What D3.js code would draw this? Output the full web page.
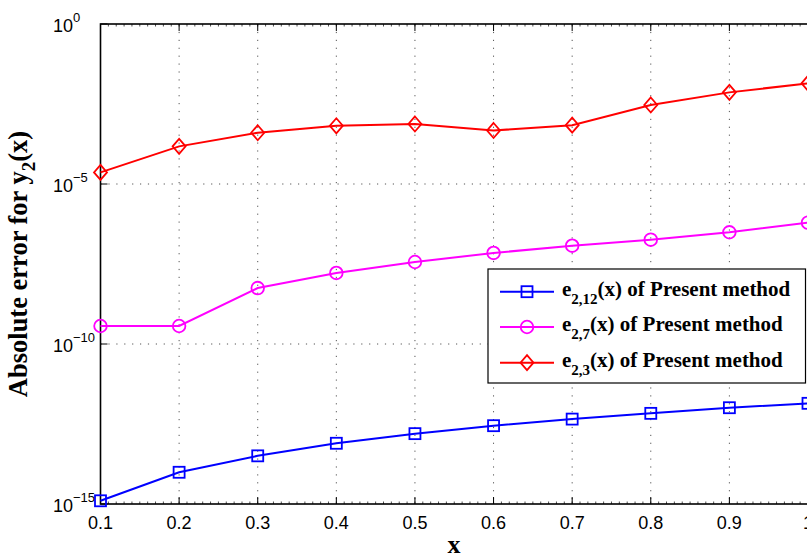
<!DOCTYPE html>
<html><head><meta charset="utf-8">
<script src="https://cdn.jsdelivr.net/npm/d3@7"></script>
<style>body{margin:0;background:#fff}svg{display:block}
.serif{font-family:"Liberation Serif","Times New Roman",serif;font-weight:bold}
.sans{font-family:"Liberation Sans",Arial,Helvetica,sans-serif}
</style>
</head><body>
<svg id="c" width="807" height="553"></svg>
<script>
const xValues = [0.1,0.2,0.3,0.4,0.5,0.6,0.7,0.8,0.9,1.0];
const e212 = [1.26e-15,9.8e-15,3.2e-14,7.9e-14,1.58e-13,2.8e-13,4.5e-13,6.8e-13,1.02e-12,1.4e-12];
const e27  = [3.65e-10,3.65e-10,5.6e-9,1.66e-8,3.65e-8,7.0e-8,1.18e-7,1.82e-7,3.1e-7,6.2e-7];
const e23  = [2.3e-5,1.5e-4,4.0e-4,6.6e-4,7.5e-4,4.7e-4,6.9e-4,2.95e-3,7.3e-3,1.4e-2];
const xTicks = [0.1,0.2,0.3,0.4,0.5,0.6,0.7,0.8,0.9,1];
const xTickLabels = ["0.1","0.2","0.3","0.4","0.5","0.6","0.7","0.8","0.9","1"];
const yTicks = [1e-15,1e-10,1e-5,1];
const yTickExps = ["\u221215","\u221210","\u22125","0"];
const seriesNames = ["2,12","2,7","2,3"];
const seriesColors = ["#0000ff","#ff00ff","#ff0000"];
const seriesMarkers = ["square","circle","diamond"];

const svg = d3.select("#c");
const L=100.5, R=808, T=24, B=504;
const x = d3.scaleLinear().domain([0.1,1]).range([L,R]);
const y = d3.scaleLog().domain([1e-15,1]).range([B,T]);

// grid
const g = svg.append("g");
g.selectAll(".vg").data(xTicks.slice(1,-1)).join("line")
  .attr("x1",d=>x(d)).attr("x2",d=>x(d)).attr("y1",T).attr("y2",B)
  .attr("stroke","#555").attr("stroke-width",1).attr("stroke-dasharray","1.2,6.7");
g.selectAll(".hg").data(yTicks.slice(1,-1)).join("line")
  .attr("x1",L).attr("x2",R).attr("y1",d=>y(d)).attr("y2",d=>y(d))
  .attr("stroke","#555").attr("stroke-width",1).attr("stroke-dasharray","1.2,6.7");

// minor x ticks
const minor = d3.range(0.1,1.0001,0.01);
g.selectAll(".mt").data(minor).join("line")
  .attr("x1",d=>x(d)).attr("x2",d=>x(d)).attr("y1",B).attr("y2",B-2.5)
  .attr("stroke","#000").attr("stroke-width",0.7);
g.selectAll(".mtt").data(minor).join("line")
  .attr("x1",d=>x(d)).attr("x2",d=>x(d)).attr("y1",T).attr("y2",T+2.5)
  .attr("stroke","#000").attr("stroke-width",0.7);

// major ticks
g.selectAll(".xt").data(xTicks).join("line")
  .attr("x1",d=>x(d)).attr("x2",d=>x(d)).attr("y1",B).attr("y2",B-7)
  .attr("stroke","#000").attr("stroke-width",1);
g.selectAll(".xtt").data(xTicks).join("line")
  .attr("x1",d=>x(d)).attr("x2",d=>x(d)).attr("y1",T).attr("y2",T+7)
  .attr("stroke","#000").attr("stroke-width",1);
g.selectAll(".yt").data(yTicks).join("line")
  .attr("x1",L).attr("x2",L+7).attr("y1",d=>y(d)).attr("y2",d=>y(d))
  .attr("stroke","#000").attr("stroke-width",1);

// axes box
svg.append("rect").attr("x",L).attr("y",T).attr("width",R-L).attr("height",B-T)
  .attr("fill","none").attr("stroke","#000").attr("stroke-width",1.6);

// tick labels
svg.selectAll(".xl").data(xTicks).join("text").attr("class","sans")
  .attr("x",d=>x(d)).attr("y",529).attr("text-anchor","middle")
  .style("font-size","18px")
  .text((d,i)=>xTickLabels[i]);
const yl = svg.selectAll(".yl").data(yTicks).join("text").attr("class","sans")
  .attr("x",53).attr("y",d=>y(d)+8)
  .style("font-size","18px");
yl.append("tspan").text("10");
yl.append("tspan").attr("dy",-10).style("font-size","13px").text((d,i)=>yTickExps[i]);

// series
const data = [e212,e27,e23];
data.forEach((vals,si)=>{
  const pts = xValues.map((xv,i)=>[xv,vals[i]]);
  const col = seriesColors[si];
  svg.append("path").datum(pts)
    .attr("d", d3.line().x(d=>x(d[0])).y(d=>y(d[1])))
    .attr("fill","none").attr("stroke",col).attr("stroke-width",2);
  pts.forEach(p=>drawMarker(svg, seriesMarkers[si], x(p[0]), y(p[1]), col));
});

function drawMarker(sel, type, cx, cy, col){
  if(type==="square"){
    sel.append("rect").attr("x",cx-5.5).attr("y",cy-5.5).attr("width",11).attr("height",11)
      .attr("fill","none").attr("stroke",col).attr("stroke-width",1.8);
  } else if(type==="circle"){
    sel.append("circle").attr("cx",cx).attr("cy",cy).attr("r",6.3)
      .attr("fill","none").attr("stroke",col).attr("stroke-width",1.8);
  } else {
    sel.append("path").attr("d",`M${cx},${cy-7.5}L${cx+6.5},${cy}L${cx},${cy+7.5}L${cx-6.5},${cy}Z`)
      .attr("fill","none").attr("stroke",col).attr("stroke-width",1.8);
  }
}

// legend
const lg = svg.append("g");
lg.append("rect").attr("x",488).attr("y",269).attr("width",317.5).attr("height",114)
  .attr("fill","#fff").attr("stroke","#000").attr("stroke-width",1.2);
const rowY = [291.7,327,362.7];
seriesNames.forEach((nm,i)=>{
  const col = seriesColors[i];
  lg.append("line").attr("x1",500).attr("x2",554).attr("y1",rowY[i]).attr("y2",rowY[i])
    .attr("stroke",col).attr("stroke-width",2);
  drawMarker(lg, seriesMarkers[i], 527, rowY[i], col);
  const t = lg.append("text").attr("class","serif").attr("x",562).attr("y",rowY[i]+4)
    .style("font-size","21px");
  t.append("tspan").text("e");
  t.append("tspan").attr("dy",8).style("font-size","15px").text(nm);
  t.append("tspan").attr("dy",-8).text("(x) of Present method");
});

// axis labels
const ylab = svg.append("text").attr("class","serif").attr("transform","translate(27,264) rotate(-90)")
  .attr("text-anchor","middle").style("font-size","26.5px");
ylab.append("tspan").text("Absolute error for y");
ylab.append("tspan").attr("dy",8).style("font-size","19px").text("2");
ylab.append("tspan").attr("dy",-8).text("(x)");

svg.append("text").attr("class","serif").attr("x",454).attr("y",553).attr("text-anchor","middle")
  .style("font-size","26px")
  .text("x");
</script>
</body></html>
